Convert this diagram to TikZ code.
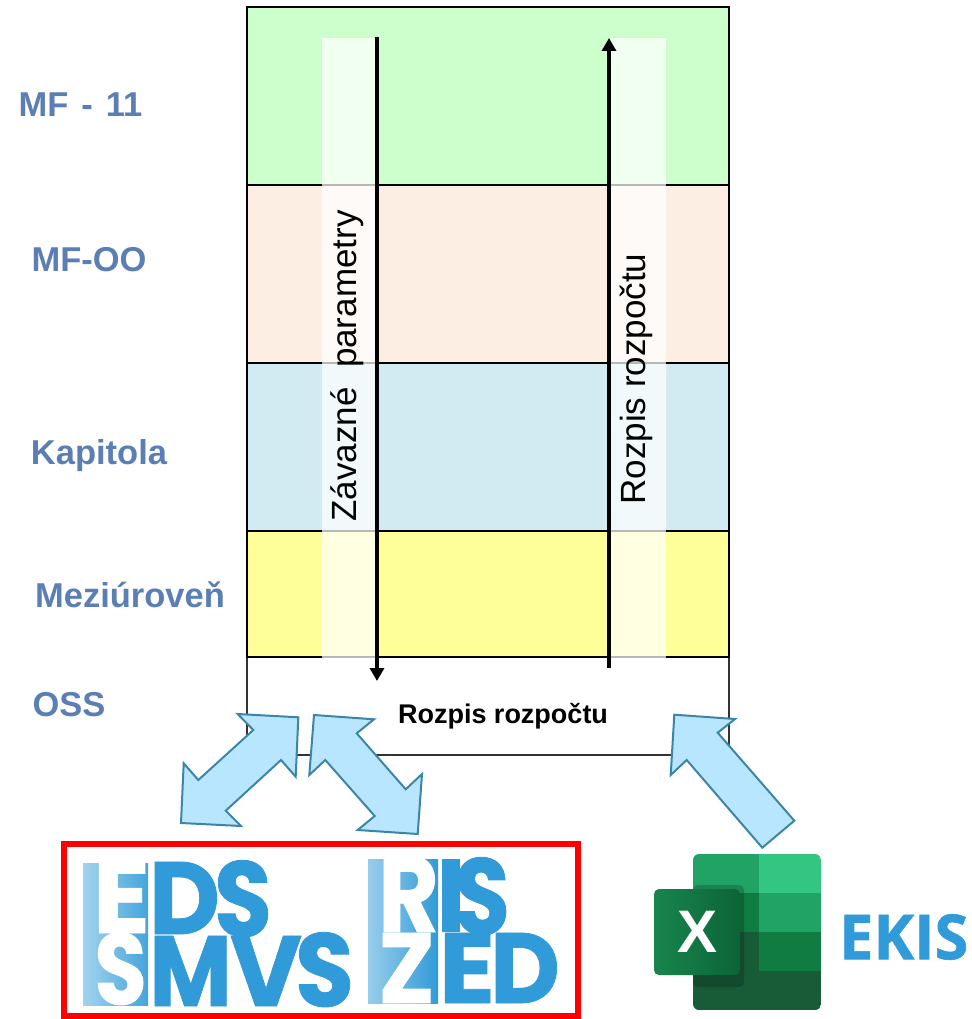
\documentclass[tikz,border=0pt]{standalone}
\usepackage{fontspec}
\setmainfont{Liberation Sans}
\newfontfamily\logofont[BoldFeatures={FakeBold=0.8}]{Poppins}
\newfontfamily\ekisfont[BoldFeatures={FakeBold=1}]{Open Sans}
\usetikzlibrary{arrows.meta,shapes.geometric}
\definecolor{lblblue}{HTML}{5B7FB5}
\definecolor{logoblue}{HTML}{309BD8}
\definecolor{arrowfill}{HTML}{B9E6FF}
\definecolor{arrowline}{HTML}{3B86A8}
\newcommand{\logoletter}[7]{%
  \node[inner sep=0pt,outer sep=0pt,anchor=south west,text=#6] (#7) at (#1,#2+#4)
    {\resizebox{#3pt}{#4pt}{\logofont\bfseries\kern-0.03em #5\kern-0.02em}};}
\tikzset{
  band/.style={draw=black,line width=1.4pt},
  strip/.style={fill=white,fill opacity=0.72,draw=none},
  flow/.style={line width=3.2pt,-{Triangle[length=13pt,width=14pt]}},
  lbl/.style={font=\fontsize{34.5}{38}\selectfont\bfseries,text=lblblue,inner sep=0pt},
  vert/.style={font=\fontsize{35}{40}\selectfont,rotate=90,inner sep=0pt,text=black},
  block/.style={fill=arrowfill,draw=arrowline,line width=2pt,line join=miter}
}
\begin{document}
\begin{tikzpicture}[x=1pt,y=-1pt]
\useasboundingbox (0,0) rectangle (971,1019);
\fill[white] (0,0) rectangle (971,1019);
% bands
\path[fill=white,draw=black!80,line width=1.4pt] (247,657) rectangle (729,755);
\path[band,fill={rgb,255:red,204;green,255;blue,204}] (247,7) rectangle (729,185);
\path[band,fill={rgb,255:red,253;green,238;blue,228}] (247,185) rectangle (729,363);
\path[band,fill={rgb,255:red,210;green,234;blue,241}] (247,363) rectangle (729,531);
\path[band,fill={rgb,255:red,255;green,255;blue,153}] (247,531) rectangle (729,657);
% strips
\fill[strip] (322,38) rectangle (377,658);
\fill[strip] (611,38) rectangle (666,658);
% arrows
\coordinate (a1s) at (377,37);
\coordinate (a1e) at (377,681);
\coordinate (a2s) at (609,668);
\coordinate (a2e) at (609,38);
\draw[flow] (a1s) -- (a1e);
\draw[flow] (a2s) -- (a2e);
% texts
\node[vert] (zp) at (347,366) {Závazné\ \ parametry};
\node[vert] (rr) at (636,379) {Rozpis rozpočtu};
\node[font=\fontsize{27}{30}\selectfont\bfseries,inner sep=0pt] (rb) at (503,716) {Rozpis rozpočtu};
\node[lbl] (l1) at (80.5,105) {MF\hspace{13pt}-\hspace{13pt}11};
\node[lbl] (l2) at (89,260) {MF-OO};
\node[lbl] (l3) at (99,456) {Kapitola};
\node[lbl] (l4) at (130,595) {Meziúroveň};
\node[lbl] (l5) at (69,705) {OSS};
% block arrows
\draw[block] (237.7,714) -- (298.3,717.3) -- (295.7,776.7) -- (281,760) -- (225.7,810.7) -- (241,826) -- (181,823) -- (183.7,763.3) -- (198.3,780) -- (253.3,730) -- cycle;
\draw[block] (314,715) -- (374,719.3) -- (356.7,733.3) -- (405.7,789.3) -- (422,774) -- (417.7,834) -- (357.7,830) -- (374.7,816) -- (325.3,760) -- (309.3,775) -- cycle;
\draw[block] (674.3,714.7) -- (735,719) -- (717.7,732.7) -- (794.3,820.7) -- (762.3,847.7) -- (686.7,760) -- (670.7,775) -- cycle;
% logo frame
\draw[red,line width=6pt] (64,844) rectangle (578,1016);
% EDS SMVS logo
\shade[left color=logoblue!45!white,right color=logoblue!90!white] (83,863) rectangle (148,1005);
\logoletter{96}{859}{52}{74}{E}{white}{le1}
\logoletter{152}{862}{66}{72}{D}{logoblue}{ld1}
\logoletter{217}{861}{53}{76}{S}{logoblue}{ls1}
\logoletter{97}{933}{48}{72}{S}{white}{ls2}
\logoletter{152}{936}{78}{70}{M}{logoblue}{lm}
\logoletter{233}{936}{67}{70}{V}{logoblue}{lv}
\logoletter{298}{933}{54}{74}{S}{logoblue}{ls3}
% RIS ZED logo
\shade[left color=logoblue!50!white,right color=logoblue] (368,859) rectangle (438,1003);
\logoletter{381}{856}{56}{76}{R}{white}{lr}
\fill[logoblue] (442,859) rectangle (460,932);
\logoletter{457}{858}{51}{77}{S}{logoblue}{ls4}
\logoletter{381}{933}{52}{70}{Z}{white}{lz}
\logoletter{442}{933}{51}{70}{E}{logoblue}{le2}
\logoletter{493}{933}{65}{70}{D}{logoblue}{ld2}
% Excel icon
\begin{scope}
\clip[rounded corners=6pt] (693,854) rectangle (821,1010);
\fill[fill={rgb,255:red,33;green,163;blue,102}] (693,854) rectangle (759,893);
\fill[fill={rgb,255:red,51;green,198;blue,130}] (759,854) rectangle (821,893);
\fill[fill={rgb,255:red,16;green,124;blue,65}] (693,893) rectangle (759,932);
\fill[fill={rgb,255:red,33;green,163;blue,102}] (759,893) rectangle (821,932);
\fill[fill={rgb,255:red,24;green,92;blue,55}] (693,932) rectangle (759,971);
\fill[fill={rgb,255:red,16;green,124;blue,65}] (759,932) rectangle (821,971);
\fill[fill={rgb,255:red,24;green,92;blue,55}] (693,971) rectangle (821,1010);
\fill[black,opacity=0.2,rounded corners=5pt] (693,885) rectangle (744,987);
\end{scope}
\shade[rounded corners=5pt,left color={rgb,255:red,24;green,133;blue,78},right color={rgb,255:red,12;green,100;blue,55}] (654,889) rectangle (740,975);
\node[font=\fontsize{60}{62}\selectfont\bfseries,text=white,inner sep=0pt] (xl) at (697,932) {X};
\node[inner sep=0pt,anchor=south west,text=logoblue] (ek) at (839,960) {\resizebox{129pt}{45pt}{\ekisfont\bfseries EKIS}};
\end{tikzpicture}
\end{document}
